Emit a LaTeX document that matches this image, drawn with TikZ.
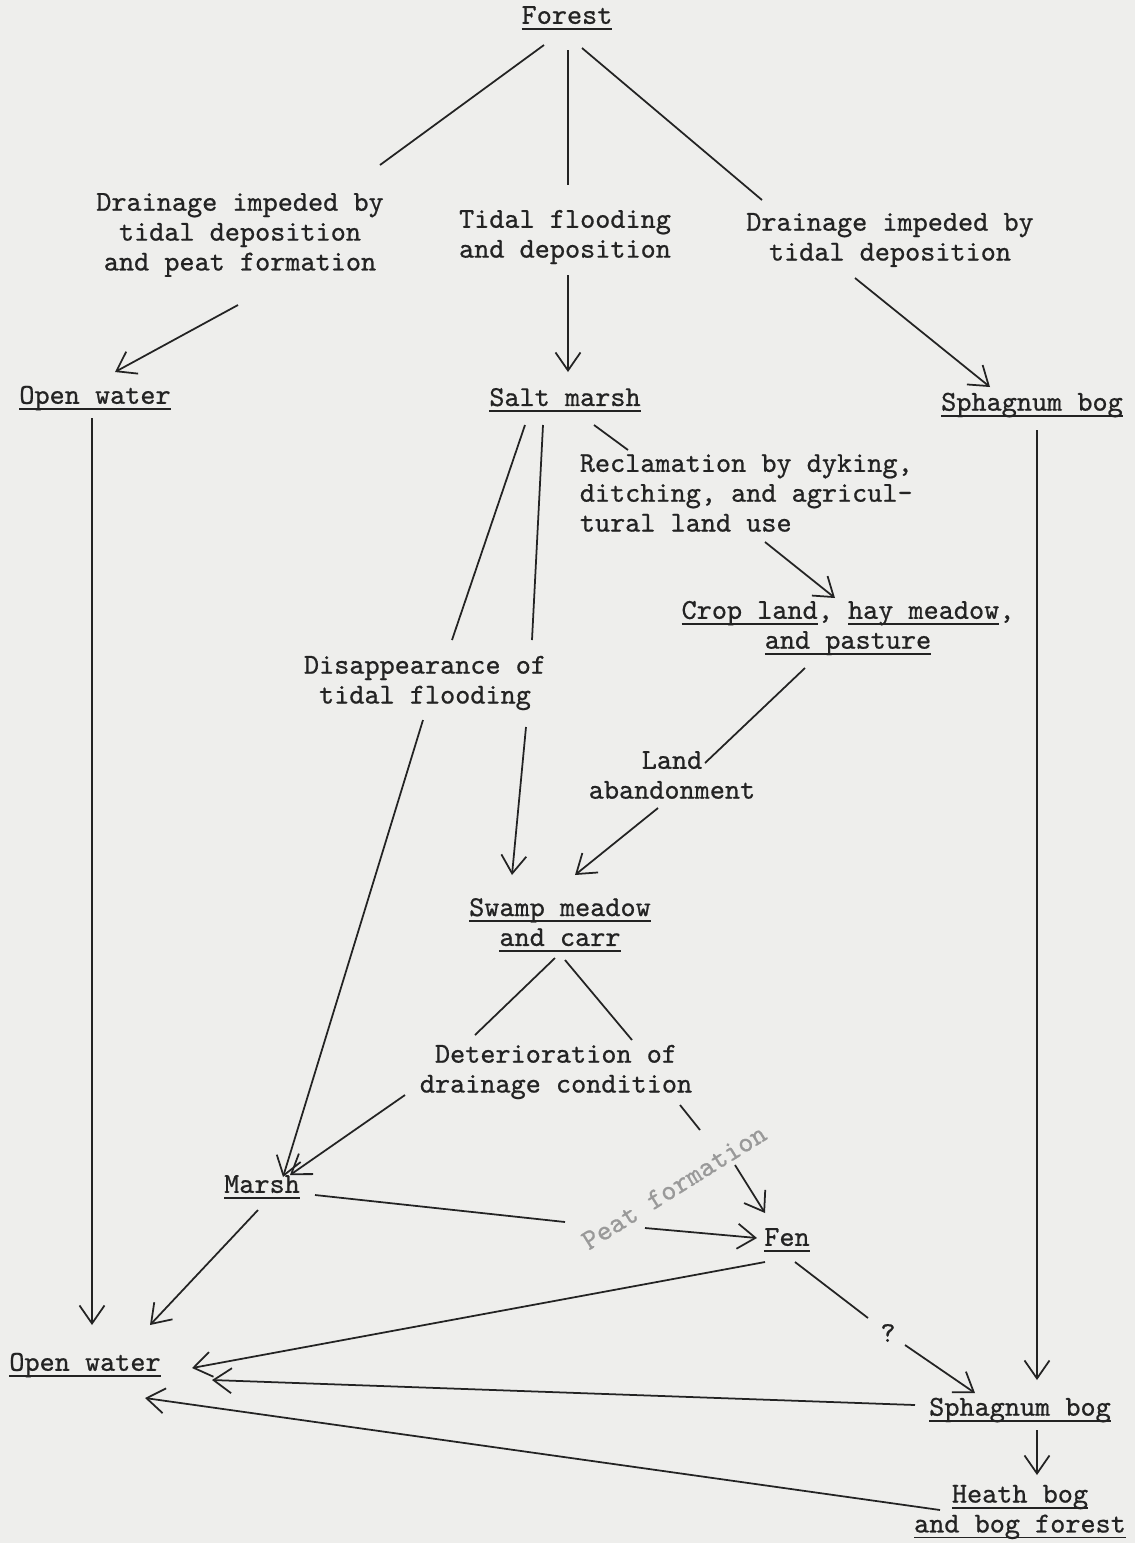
\documentclass[tikz,border=0pt]{standalone}
\usepackage{fontspec}
\setmonofont{lmmono10-regular.otf}[FakeBold=0.7]
\usetikzlibrary{arrows.meta}
\definecolor{paper}{RGB}{238,238,236}
\definecolor{ink}{RGB}{35,35,35}
\newcommand{\undr}[1]{\setbox0\hbox{#1}\rlap{\rule[-3.4pt]{\wd0}{0.9pt}}\box0}
\tikzset{
  lbl/.style={font=\ttfamily\fontsize{16.4}{17}\selectfont, text=ink, align=center, inner sep=2pt},
  con/.style={draw=ink, line width=1pt},
  arr/.style={con, -{Straight Barb[length=0.36cm,width=0.5cm]}},
}

\begin{document}
\begin{tikzpicture}[x=0.02cm,y=-0.02cm]
\fill[paper] (0,0) rectangle (1135,1543);
\useasboundingbox (0,0) rectangle (1135,1543);

\draw (567,18)   node (forest) [lbl] {\undr{Forest}};
\draw (240,235)  node (drainL) [lbl] {Drainage impeded by\\tidal deposition\\and peat formation};
\draw (565,237)  node (tidal)  [lbl] {Tidal flooding\\and deposition};
\draw (890,240)  node (drainR) [lbl] {Drainage impeded by\\tidal deposition};

\draw (95,398)   node (openT)  [lbl] {\undr{Open water}};
\draw (565,400)  node (salt)   [lbl] {\undr{Salt marsh}};
\draw (1032,405) node (sphT)   [lbl] {\undr{Sphagnum bog}};
\draw (576,493)  node (reclam) [lbl, anchor=west, align=left] {Reclamation by dyking,\\ditching, and agricul-\\tural land use};
\draw (848,628)  node (crop)   [lbl] {\undr{Crop land}, \undr{hay meadow},\\\undr{and pasture}};
\draw (425,683)  node (disapp) [lbl] {Disappearance of\\tidal flooding};
\draw (672,775)  node (land)   [lbl] {Land\\abandonment};
\draw (560,925)  node (swamp)  [lbl] {\undr{Swamp meadow}\\\undr{and carr}};
\draw (556,1072) node (deter)  [lbl] {Deterioration of\\drainage condition};
\draw (262,1187) node (marsh)  [lbl] {\undr{Marsh}};
\draw (787,1240) node (fen)    [lbl] {\undr{Fen}};
\draw (674,1187) node (peat)   [lbl, rotate=32, inner sep=0pt, text=black!40] {Peat formation};
\draw (888,1333) node (qmark)  [lbl] {?};
\draw (85,1365)  node (openB)  [lbl] {\undr{Open water}};
\draw (1020,1410) node (sphB)  [lbl] {\undr{Sphagnum bog}};
\draw (1020,1512) node (heath) [lbl] {\undr{Heath bog}\\\undr{and bog forest}};

% from the forest
\draw[con] ([shift={(-23,27)}]forest.center) -- ([shift={(140,-70)}]drainL.center);
\draw[con] ([shift={(1,32)}]forest.center) -- ([shift={(3,-52)}]tidal.center);
\draw[con] ([shift={(15,30)}]forest.center) -- ([shift={(-128,-40)}]drainR.center);
\draw[arr] ([shift={(3,38)}]tidal.center) -- ([shift={(3,-28)}]salt.center);
\draw[arr] ([shift={(-2,70)}]drainL.center) -- ([shift={(20,-26)}]openT.center);
\draw[arr] ([shift={(-35,38)}]drainR.center) -- ([shift={(-42,-18)}]sphT.center);

% long verticals
\draw[arr] ([shift={(-3,20)}]openT.center) -- ([shift={(7,-40)}]openB.center);
\draw[arr] ([shift={(5,25)}]sphT.center) -- ([shift={(17,-30)}]sphB.center);

% salt marsh
\draw[con] ([shift={(29,25)}]salt.center) -- ([shift={(52,-43)}]reclam.west);
\draw[arr] ([shift={(189,49)}]reclam.west) -- ([shift={(-13,-30)}]crop.center);
\draw[con] ([shift={(-40,25)}]salt.center) -- ([shift={(27,-43)}]disapp.center);
\draw[con] ([shift={(-22,25)}]salt.center) -- ([shift={(107,-43)}]disapp.center);
\draw[arr] ([shift={(-2,37)}]disapp.center) -- ([shift={(21,-10)}]marsh.center);
\draw[arr] ([shift={(101,44)}]disapp.center) -- ([shift={(-48,-50)}]swamp.center);
\draw[con] ([shift={(-43,40)}]crop.center) -- ([shift={(33,-12)}]land.center);
\draw[arr] ([shift={(-14,33)}]land.center) -- ([shift={(15,-50)}]swamp.center);

% swamp meadow
\draw[con] ([shift={(-5,33)}]swamp.center) -- ([shift={(-81,-37)}]deter.center);
\draw[con] ([shift={(5,35)}]swamp.center) -- ([shift={(76,-32)}]deter.center);
\draw[arr] ([shift={(-151,23)}]deter.center) -- ([shift={(28,-12)}]marsh.center);
\draw[con] ([shift={(124,33)}]deter.center) -- ([shift={(26,-57)}]peat.center);
\draw[arr] ([shift={(61,-22)}]peat.center) -- ([shift={(-22,-27)}]fen.center);
\draw[con] ([shift={(53,8)}]marsh.center) -- ([shift={(-109,35)}]peat.center);
\draw[arr] ([shift={(-29,41)}]peat.center) -- ([shift={(-30,-2)}]fen.center);

% to open water
\draw[arr] ([shift={(-4,23)}]marsh.center) -- ([shift={(65,-40)}]openB.center);
\draw[arr] ([shift={(-22,22)}]fen.center) -- ([shift={(107,3)}]openB.center);
\draw[con] ([shift={(8,22)}]fen.center) -- ([shift={(-20,-15)}]qmark.center);
\draw[arr] ([shift={(17,12)}]qmark.center) -- ([shift={(-45,-17)}]sphB.center);
\draw[arr] ([shift={(-105,-5)}]sphB.center) -- ([shift={(127,15)}]openB.center);
\draw[arr] ([shift={(17,20)}]sphB.center) -- ([shift={(17,-37)}]heath.center);
\draw[arr] ([shift={(-80,-2)}]heath.center) -- ([shift={(60,33)}]openB.center);
\end{tikzpicture}
\end{document}
